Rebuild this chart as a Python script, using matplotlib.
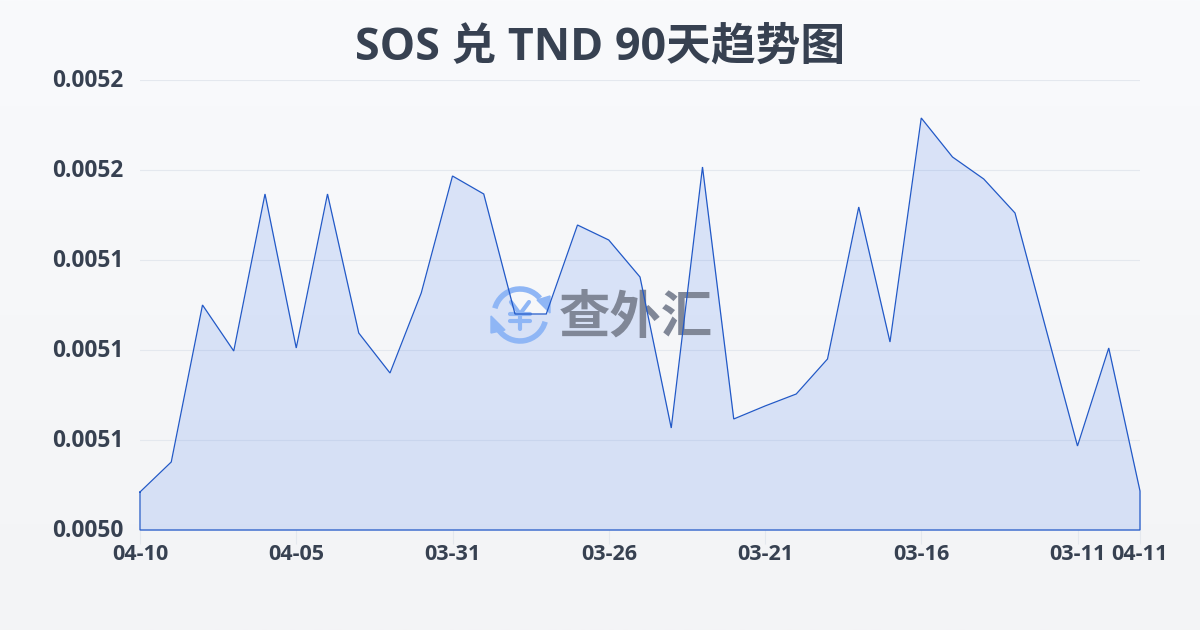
import numpy as np
import matplotlib
matplotlib.use('Agg')
import matplotlib.pyplot as plt
from matplotlib.patches import Arc, Polygon
from matplotlib.transforms import ScaledTranslation

plt.rcParams['font.family'] = ['Open Sans', 'Noto Sans CJK SC', 'DejaVu Sans']

title = 'SOS 兑 TND 90天趋势图'
rates = [0.00502111, 0.00503778, 0.005125, 0.00509944, 0.00518667, 0.00510111,
         0.00518667, 0.00510944, 0.00508722, 0.00513167, 0.00519667, 0.00518667,
         0.00512, 0.00512, 0.00516944, 0.00516111, 0.00514056, 0.00505667,
         0.00520167, 0.00506167, 0.00506889, 0.00507556, 0.0050950, 0.00517944,
         0.00510444, 0.00522889, 0.00520722, 0.0051950, 0.00517611, 0.00511111,
         0.00504667, 0.00510111, 0.00502167]
x_ticks = [0, 5, 10, 15, 20, 25, 30, 32]
x_labels = ['04-10', '04-05', '03-31', '03-26', '03-21', '03-16', '03-11', '04-11']
y_ticks = [0.0050, 0.00505, 0.0051, 0.00515, 0.0052, 0.00525]
y_labels = ['0.0050', '0.0051', '0.0051', '0.0051', '0.0052', '0.0052']

text_col = '#374151'
line_col = '#2259c7'
grid_col = '#e4e8ee'
ring = '#8fb6f5'

fig = plt.figure(figsize=(12, 6.3), dpi=100)
rect = [140 / 1200, 100 / 630, 1000 / 1200, 450 / 630]

# page background, light vertical gradient
bg = fig.add_axes([0, 0, 1, 1], zorder=0)
grad = np.linspace(0, 1, 256).reshape(-1, 1)
top = np.array([249, 250, 252]) / 255
bottom = np.array([243, 244, 246]) / 255
bg.imshow(top + (bottom - top) * grad[:, :, None], aspect='auto', extent=[0, 1200, 630, 0])
bg.set_xlim(0, 1200)
bg.set_ylim(630, 0)
bg.axis('off')

# area and axes
ax = fig.add_axes(rect, zorder=1)
ax.patch.set_alpha(0)
x = np.arange(len(rates))
ax.fill_between(x, rates, 0.005, color='#2563eb', alpha=0.14, lw=0)
ax.set_xlim(0, 32)
ax.set_ylim(0.005, 0.00525)
ax.set_yticks(y_ticks)
ax.set_yticklabels(y_labels)
ax.set_xticks(x_ticks)
ax.set_xticklabels(x_labels)
ax.grid(axis='y', color=grid_col, lw=0.8)
ax.set_axisbelow(True)
ax.tick_params(axis='x', length=10, width=0.8, color=grid_col, pad=0, labelsize=15.6, labelcolor=text_col)
ax.tick_params(axis='y', length=0, pad=12, labelsize=16.3, labelcolor=text_col)
for lab in ax.get_xticklabels() + ax.get_yticklabels():
    lab.set_fontweight('bold')
up = ScaledTranslation(0, 2 / 100, fig.dpi_scale_trans)
for lab in ax.get_yticklabels():
    lab.set_transform(lab.get_transform() + up)
for s in ax.spines.values():
    s.set_visible(False)

# watermark logo sits over the fill, under the line
logo = fig.add_axes([0, 0, 1, 1], zorder=2)
logo.patch.set_alpha(0)
logo.set_xlim(0, 1200)
logo.set_ylim(630, 0)
logo.axis('off')
logo.add_patch(Arc((520, 315), 52, 52, theta1=15, theta2=145, lw=4, color=ring))
logo.add_patch(Arc((520, 315), 52, 52, theta1=195, theta2=320, lw=4, color=ring))
logo.add_patch(Polygon([[491, 316], [505, 330], [491, 333]], color=ring))
logo.add_patch(Polygon([[550, 313], [537, 300], [550, 296]], color=ring))
logo.plot([511, 520, 529], [302, 314, 302], color=ring, lw=3, solid_capstyle='round')
logo.plot([520, 520], [314, 329], color=ring, lw=3, solid_capstyle='round')
logo.plot([510, 530], [314, 314], color=ring, lw=3, solid_capstyle='round')
logo.plot([510, 530], [321, 321], color=ring, lw=3, solid_capstyle='round')
logo.text(636, 317, '查外汇', fontsize=37, fontweight='bold', color='#808797', ha='center', va='center',
          family=['Noto Sans CJK SC'])

# outline of the area on top
top_ax = fig.add_axes(rect, zorder=3)
top_ax.patch.set_alpha(0)
top_ax.plot(np.r_[x, x[-1], x[0], x[0]], np.r_[rates, 0.005, 0.005, rates[0]],
            color=line_col, lw=0.9, solid_joinstyle='miter', clip_on=False)
top_ax.set_xlim(0, 32)
top_ax.set_ylim(0.005, 0.00525)
top_ax.axis('off')

fig.text(600 / 1200, 1 - 48 / 630, title, fontsize=32.2, fontweight='bold', color=text_col,
         ha='center', va='center')

fig.savefig('out.png', dpi=100)
